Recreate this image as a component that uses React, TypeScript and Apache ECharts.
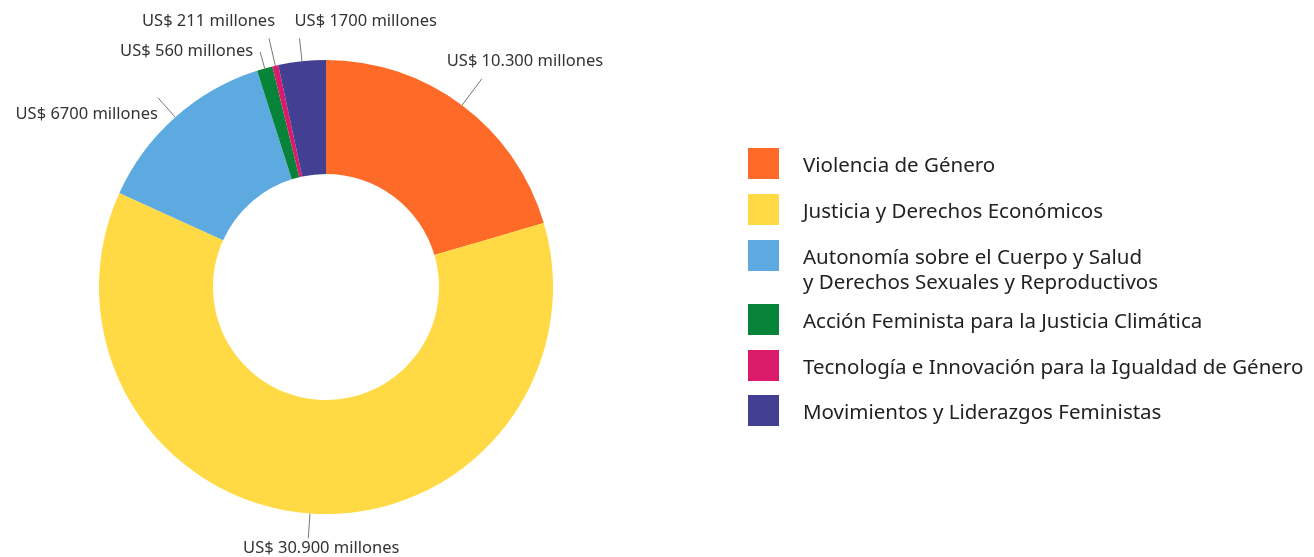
import React, { useEffect, useRef } from "react";
import * as echarts from "echarts";

const categories = [
  "Violencia de Género",
  "Justicia y Derechos Económicos",
  "Autonomía sobre el Cuerpo y Salud\ny Derechos Sexuales y Reproductivos",
  "Acción Feminista para la Justicia Climática",
  "Tecnología e Innovación para la Igualdad de Género",
  "Movimientos y Liderazgos Feministas",
];
const values = [10300, 30900, 6700, 560, 211, 1700];
const colors = ["#FE6A27", "#FFDA44", "#5DAAE0", "#07833A", "#DC1A6A", "#433F92"];

// presentation config (not data)
const lineLengths = [33, 25, 26, 17, 28, 23];
const labelAnchors = [
  { align: "left", verticalAlign: "bottom", dx: -35, dy: -10 },
  { align: "center", verticalAlign: "top", dx: 13, dy: -1 },
  { align: "right", verticalAlign: "middle", dx: 0, dy: 15 },
  { align: "right", verticalAlign: "middle", dx: -7, dy: -3 },
  { align: "right", verticalAlign: "bottom", dx: 6, dy: -10 },
  { align: "left", verticalAlign: "bottom", dx: -5, dy: -10 },
];
const legendCenters = [163.5, 209.5, 255.5, 319.5, 365.5, 410.5];

const FONT = "'Noto Sans', Lato, sans-serif";

function fmt(v: number): string {
  const s = String(v);
  if (v >= 10000) return s.replace(/\B(?=(\d{3})+(?!\d))/g, ".");
  return s;
}

export default function App() {
  const ref = useRef<HTMLDivElement>(null);
  useEffect(() => {
    if (!ref.current) return;
    const chart = echarts.init(ref.current, undefined, { renderer: "svg" });
    const legends = categories.map((name, i) => {
      const multi = name.includes("\n");
      return {
        show: true,
        orient: "vertical",
        left: 748,
        top: multi ? legendCenters[i] - 37.5 : legendCenters[i] - 15.5,
        padding: 0,
        itemWidth: 31,
        itemHeight: 31,
        icon: "rect",
        selectedMode: false,
        data: [name],
        formatter: (n: string) => {
          const lines = n.split("\n");
          const body = lines.map((l) => `{s|}{t|${l}}`).join("\n");
          return lines.length > 1 ? `{s|}\n${body}` : body;
        },
        textStyle: {
          fontFamily: FONT,
          fontSize: 20.5,
          color: "#222",
          rich: {
            s: { width: 19, height: 25, lineHeight: 25 },
            t: { fontFamily: FONT, fontSize: 20.5, color: "#222", lineHeight: 25 },
          },
        },
      };
    });
    chart.setOption({
      animation: false,
      color: colors,
      legend: legends,
      series: [
        {
          type: "pie",
          center: [326, 287],
          radius: [113, 227],
          startAngle: 90,
          clockwise: true,
          avoidLabelOverlap: false,
          itemStyle: { borderWidth: 0 },
          emphasis: { disabled: true },
          label: {
            show: true,
            position: "outside",
            fontFamily: FONT,
            fontSize: 16.5,
            lineHeight: 18,
            color: "#333",
            formatter: (p: any) => `US$ ${fmt(p.value)} millones`,
          },
          labelLine: {
            show: true,
            length2: 0,
            lineStyle: { color: "#777", width: 1 },
          },
          labelLayout: (p: any) => {
            const pts = p.labelLinePoints;
            if (!pts) return {};
            const end = pts[pts.length - 1];
            const a = labelAnchors[p.dataIndex];
            return {
              x: end[0] + a.dx,
              y: end[1] + a.dy,
              align: a.align,
              verticalAlign: a.verticalAlign,
              labelLinePoints: pts,
            };
          },
          data: categories.map((name, i) => ({
            name,
            value: values[i],
            labelLine: { length: lineLengths[i], length2: 0 },
          })),
        },
      ],
    });
    return () => chart.dispose();
  }, []);
  return (
    <div
      ref={ref}
      style={{ position: "fixed", left: 0, top: 0, width: 1314, height: 557 }}
    />
  );
}
